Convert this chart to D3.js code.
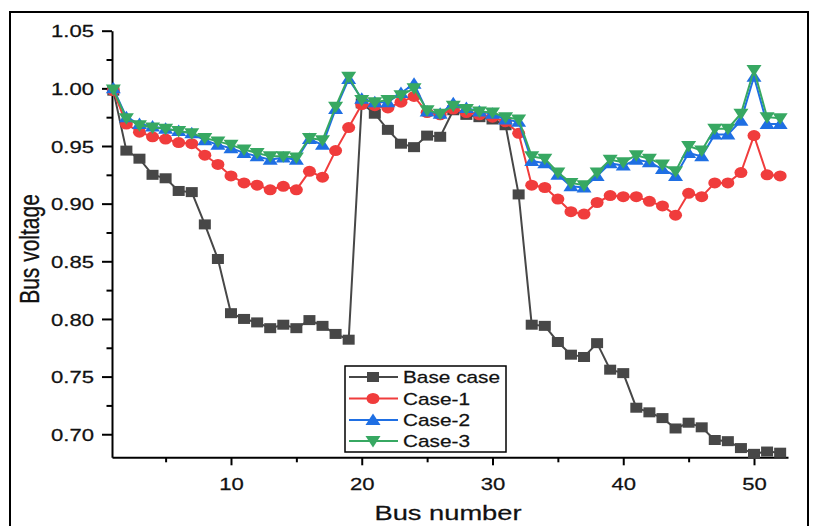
<!DOCTYPE html>
<html>
<head>
<meta charset="utf-8">
<script src="https://cdn.jsdelivr.net/npm/d3@7/dist/d3.min.js"></script>
<style>
  html, body { margin: 0; padding: 0; background: #fff; }
  svg { display: block; }
  text { font-family: "Liberation Sans", Arial, sans-serif; fill: #111; stroke: #111; stroke-width: 0.25; }
</style>
</head>
<body>
<svg id="chart" width="824" height="526"></svg>
<script>
// Bus numbers 1..52
const buses = [1,2,3,4,5,6,7,8,9,10,11,12,13,14,15,16,17,18,19,20,21,22,23,24,25,26,
  27,28,29,30,31,32,33,34,35,36,37,38,39,40,41,42,43,44,45,46,47,48,49,50,51,52];

const baseCase = [0.998,0.946,0.939,0.925,0.922,0.911,0.910,0.882,0.852,0.805,0.800,0.797,0.792,0.795,0.792,0.799,0.794,0.787,0.782,
  0.987,0.978,0.964,0.952,0.949,0.959,0.958,0.981,0.977,0.975,0.973,0.968,0.908,0.795,0.794,0.780,0.769,0.767,0.779,0.756,0.753,
  0.723,0.719,0.714,0.705,0.710,0.706,0.695,0.694,0.688,0.683,0.685,0.684];

const case1 = [0.998,0.969,0.962,0.958,0.956,0.953,0.952,0.942,0.934,0.924,0.918,0.916,0.912,0.915,0.912,0.928,0.923,0.946,0.966,
  0.986,0.985,0.983,0.988,0.993,0.979,0.977,0.982,0.979,0.977,0.975,0.971,0.961,0.916,0.914,0.904,0.893,0.891,0.901,0.907,0.906,
  0.906,0.902,0.898,0.890,0.909,0.906,0.918,0.918,0.927,0.959,0.925,0.924];

const case2 = [1.000,0.975,0.969,0.967,0.965,0.963,0.961,0.955,0.951,0.948,0.944,0.941,0.938,0.940,0.938,0.956,0.951,0.982,1.008,
  0.991,0.988,0.988,0.996,1.004,0.980,0.978,0.987,0.983,0.980,0.978,0.973,0.971,0.937,0.935,0.925,0.915,0.914,0.924,0.935,0.933,
  0.938,0.936,0.930,0.924,0.944,0.941,0.960,0.960,0.972,1.010,0.969,0.969];

const case3 = [0.999,0.974,0.968,0.966,0.965,0.963,0.961,0.957,0.954,0.951,0.947,0.944,0.941,0.941,0.940,0.957,0.955,0.984,1.010,
  0.990,0.988,0.990,0.994,1.000,0.981,0.978,0.985,0.982,0.980,0.979,0.975,0.973,0.941,0.939,0.927,0.918,0.916,0.927,0.938,0.936,
  0.942,0.939,0.934,0.928,0.950,0.946,0.965,0.965,0.978,1.016,0.975,0.974];

const seriesNames = ["Base case", "Case-1", "Case-2", "Case-3"];
const seriesColors = ["#474747", "#f03c3c", "#1f6fe3", "#37a862"];
const seriesMarkers = ["square", "circle", "triangleUp", "triangleDown"];
const seriesValues = [baseCase, case1, case2, case3];

const xMajorTicks = [10, 20, 30, 40, 50];
const xMinorTicks = [5, 15, 25, 35, 45];
const yMajorTicks = [0.70, 0.75, 0.80, 0.85, 0.90, 0.95, 1.00, 1.05];
const yMinorTicks = [0.725, 0.775, 0.825, 0.875, 0.925, 0.975, 1.025];

(function draw() {
  const SX = 1.3; // horizontal text stretch

  const svg = d3.select("#chart");

  // outer frame
  svg.append("rect")
    .attr("x", 10).attr("y", 12).attr("width", 798).attr("height", 530)
    .attr("fill", "none").attr("stroke", "#000").attr("stroke-width", 2);

  const pLeft = 112, pRight = 788, pTop = 30.7, pBottom = 457.3;
  const x = d3.scaleLinear().domain([0.9, 52.6]).range([pLeft, pRight]);
  const y = d3.scaleLinear().domain([0.68, 1.05]).range([pBottom, pTop]);

  // axes
  const xMinor = svg.append("g").attr("transform", `translate(0,${pBottom})`)
    .call(d3.axisBottom(x).tickValues(xMinorTicks).tickSize(5).tickSizeOuter(0).tickFormat(""));
  const xMajor = svg.append("g").attr("transform", `translate(0,${pBottom})`)
    .call(d3.axisBottom(x).tickValues(xMajorTicks).tickSize(8).tickSizeOuter(0).tickFormat(d3.format("d")));
  const yMinor = svg.append("g").attr("transform", `translate(${pLeft},0)`)
    .call(d3.axisLeft(y).tickValues(yMinorTicks).tickSize(5.5).tickSizeOuter(0).tickFormat(""));
  const yMajor = svg.append("g").attr("transform", `translate(${pLeft},0)`)
    .call(d3.axisLeft(y).tickValues(yMajorTicks).tickSize(10).tickSizeOuter(0).tickFormat(d3.format(".2f")));

  [xMinor, xMajor, yMinor, yMajor].forEach(g => {
    g.selectAll("path.domain").attr("stroke", "#000").attr("stroke-width", 2);
    g.selectAll(".tick line").attr("stroke", "#000").attr("stroke-width", 2);
  });
  xMinor.select("path.domain").remove();
  yMinor.select("path.domain").remove();

  xMajor.selectAll(".tick text")
    .attr("y", 33).attr("dy", 0)
    .attr("font-size", 17).attr("fill", "#111")
    .attr("font-family", "Liberation Sans, Arial, sans-serif")
    .attr("transform", `scale(${SX},1)`);
  yMajor.selectAll(".tick text")
    .attr("x", -18 / SX).attr("dy", "0.36em")
    .attr("font-size", 17).attr("fill", "#111")
    .attr("font-family", "Liberation Sans, Arial, sans-serif")
    .attr("transform", `scale(${SX},1)`);

  // axis titles
  svg.append("text")
    .attr("transform", `translate(${(pLeft + pRight) / 2 - 2},520) scale(${SX},1)`)
    .attr("text-anchor", "middle").attr("font-size", 21)
    .text("Bus number");
  svg.append("text")
    .attr("transform", `translate(39,249) scale(${SX},1) rotate(-90)`)
    .attr("text-anchor", "middle").attr("font-size", 21)
    .text("Bus voltage");

  // marker drawing
  function drawMarker(g, kind, cx, cy, color) {
    if (kind === "square") {
      g.append("rect").attr("x", cx - 6).attr("y", cy - 5).attr("width", 12).attr("height", 10).attr("fill", color);
    } else if (kind === "circle") {
      g.append("ellipse").attr("cx", cx).attr("cy", cy).attr("rx", 6.5).attr("ry", 5.5).attr("fill", color);
    } else if (kind === "triangleUp") {
      g.append("path").attr("d", `M${cx},${cy - 6.5}L${cx + 7.5},${cy + 5}L${cx - 7.5},${cy + 5}Z`).attr("fill", color);
    } else {
      g.append("path").attr("d", `M${cx},${cy + 6.5}L${cx + 7.5},${cy - 5}L${cx - 7.5},${cy - 5}Z`).attr("fill", color);
    }
  }

  const line = d3.line().x(d => x(d[0])).y(d => y(d[1]));

  seriesValues.forEach((vals, i) => {
    const pts = buses.map((b, j) => [b, vals[j]]);
    const g = svg.append("g");
    g.append("path").datum(pts).attr("d", line)
      .attr("fill", "none").attr("stroke", seriesColors[i]).attr("stroke-width", 2);
    pts.forEach(p => drawMarker(g, seriesMarkers[i], x(p[0]), y(p[1]), seriesColors[i]));
  });

  // legend
  const lg = svg.append("g");
  lg.append("rect").attr("x", 345).attr("y", 366).attr("width", 161).attr("height", 86)
    .attr("fill", "#fff").attr("stroke", "#000").attr("stroke-width", 1.5);
  const legendRows = [377, 398.5, 420, 441];
  seriesNames.forEach((name, i) => {
    const cy = legendRows[i];
    lg.append("line").attr("x1", 349).attr("x2", 398).attr("y1", cy).attr("y2", cy)
      .attr("stroke", seriesColors[i]).attr("stroke-width", 2);
    drawMarker(lg, seriesMarkers[i], 373, cy, seriesColors[i]);
    lg.append("text")
      .attr("transform", `translate(403,${cy + 6}) scale(${SX},1)`)
      .attr("font-size", 16).text(name);
  });
})();
</script>
</body>
</html>
